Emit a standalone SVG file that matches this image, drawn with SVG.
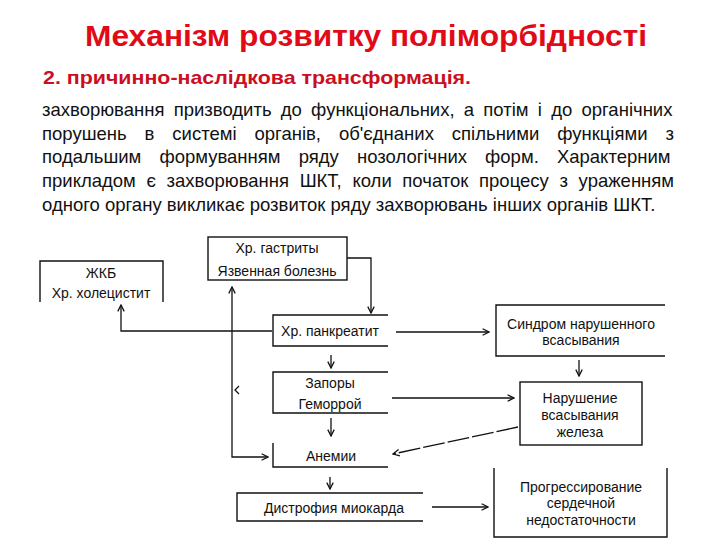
<svg xmlns="http://www.w3.org/2000/svg" width="720" height="540" viewBox="0 0 720 540">
<style>
  .title{font-family:"Liberation Sans",Arial,sans-serif;font-weight:bold;fill:#E10A17;}
  .sub{font-family:"Liberation Sans",Arial,sans-serif;font-weight:bold;fill:#CC0E22;}
  .para{font-family:"Liberation Sans",Arial,sans-serif;font-size:18.5px;fill:#111;}
  .lbl{font-family:"Liberation Sans",Arial,sans-serif;font-size:14px;fill:#111;text-anchor:middle;}
  .box{fill:none;stroke:#111;stroke-width:1.4;}
  .con{fill:none;stroke:#111;stroke-width:1.3;}
</style>
<defs>
  <marker id="arr" viewBox="0 0 10 10" refX="9" refY="5" markerWidth="8" markerHeight="8" markerUnits="userSpaceOnUse" orient="auto-start-reverse">
    <path d="M1,1 L9,5 L1,9" fill="none" stroke="#111" stroke-width="1.6"/>
  </marker>
</defs>
<rect width="720" height="540" fill="#fff"/>

<text class="title" x="85" y="46" font-size="30" textLength="562" lengthAdjust="spacingAndGlyphs">Механізм розвитку поліморбідності</text>
<text class="sub" x="43" y="84" font-size="19" textLength="428" lengthAdjust="spacingAndGlyphs">2. причинно-наслідкова трансформація.</text>

<g id="paragraph">
  <text class="para" x="42" y="116" word-spacing="4.1">захворювання призводить до функціональних, а потім і до органічних</text>
  <text class="para" x="42" y="140" word-spacing="12.8">порушень в системі органів, об'єднаних спільними функціями з</text>
  <text class="para" x="42" y="163" word-spacing="13">подальшим формуванням ряду нозологічних форм. Характерним</text>
  <text class="para" x="42" y="187" word-spacing="5.5">прикладом є захворювання ШКТ, коли початок процесу з ураженням</text>
  <text class="para" x="42" y="211">одного органу викликає розвиток ряду захворювань інших органів ШКТ.</text>
</g>

<g id="zhkb">
  <path class="box" d="M40,302 L40,261 L163,261 L163,302"/>
  <text class="lbl" x="101" y="278">ЖКБ</text>
  <text class="lbl" x="101" y="298">Хр. холецистит</text>
</g>
<g id="gastritis">
  <rect class="box" x="208" y="237" width="139" height="43"/>
  <text class="lbl" x="277" y="253">Хр. гастриты</text>
  <text class="lbl" x="277" y="276">Язвенная болезнь</text>
</g>
<g id="pancreatitis">
  <path class="box" d="M388,315 L273,315 L273,346 L388,346"/>
  <text class="lbl" x="330" y="336">Хр. панкреатит</text>
</g>
<g id="constipation">
  <path class="box" d="M388,372 L273,372 L273,413 L388,413"/>
  <text class="lbl" x="330" y="388">Запоры</text>
  <text class="lbl" x="330" y="409">Геморрой</text>
</g>
<g id="anemia">
  <path class="box" d="M273,443 L273,467 L388,467"/>
  <text class="lbl" x="331" y="461">Анемии</text>
</g>
<g id="dystrophy">
  <path class="box" d="M423,493 L237,493 L237,521 L423,521"/>
  <text class="lbl" x="334" y="513">Дистрофия миокарда</text>
</g>
<g id="malabsorption">
  <path class="box" d="M665,305 L496,305 L496,356 L665,356"/>
  <text class="lbl" x="581" y="329">Синдром нарушенного</text>
  <text class="lbl" x="581" y="345">всасывания</text>
</g>
<g id="iron">
  <rect class="box" x="520" y="382" width="122" height="63"/>
  <text class="lbl" x="580" y="403">Нарушение</text>
  <text class="lbl" x="580" y="420">всасывания</text>
  <text class="lbl" x="580" y="437">железа</text>
</g>
<g id="heartfailure">
  <path class="box" d="M494,468 L494,537 L667,537 L667,468"/>
  <text class="lbl" x="581" y="492">Прогрессирование</text>
  <text class="lbl" x="581" y="508">сердечной</text>
  <text class="lbl" x="581" y="525">недостаточности</text>
</g>

<g id="connectors">
  <path class="con" d="M347,258 L371,258 L371,313" marker-end="url(#arr)"/>
  <path class="con" d="M272,331 L121,331 L121,305" marker-end="url(#arr)"/>
  <path class="con" d="M232,287 L232,457 L268,457" marker-start="url(#arr)" marker-end="url(#arr)"/>
  <path class="con" d="M239,386 L235,390 L239,394" stroke-width="1.6"/>
  <path class="con" d="M331,355 L331,368" marker-end="url(#arr)"/>
  <path class="con" d="M331,418 L331,436" marker-end="url(#arr)"/>
  <path class="con" d="M330,477 L330,489" marker-end="url(#arr)"/>
  <path class="con" d="M396,332 L489,332" marker-end="url(#arr)"/>
  <path class="con" d="M392,398 L514,398" marker-end="url(#arr)"/>
  <path class="con" d="M579,360 L579,376" marker-end="url(#arr)"/>
  <path class="con" d="M518,427 L393,454" stroke-dasharray="22 3" marker-end="url(#arr)"/>
  <path class="con" d="M432,507 L488,507" marker-end="url(#arr)"/>
</g>
</svg>
